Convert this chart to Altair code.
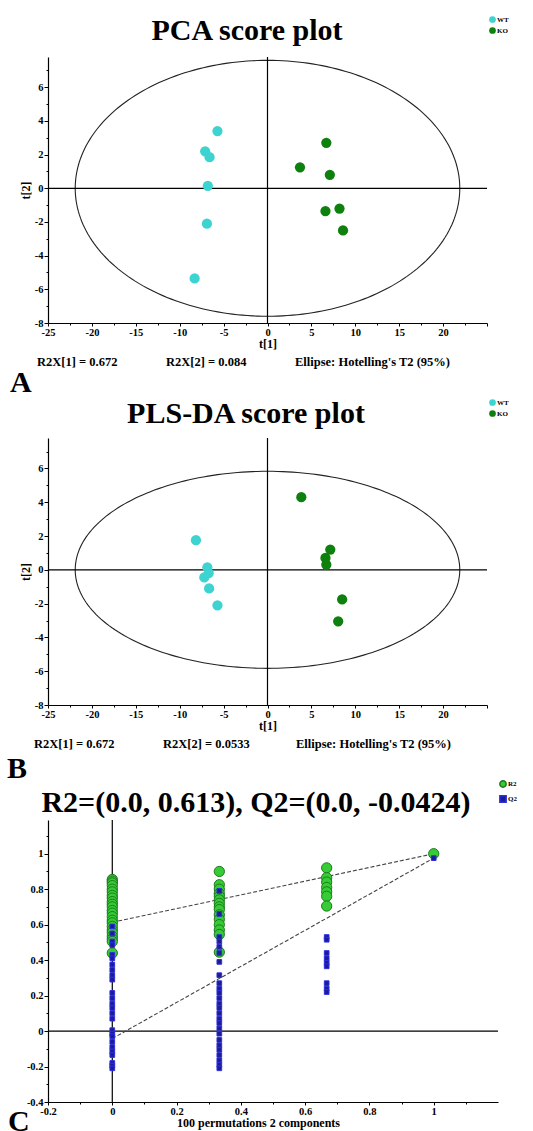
import altair as alt
import numpy as np
import pandas as pd

SERIF = "Liberation Serif"

# ---------------- Panel A : PCA scores ----------------
pca_wt_t1 = [-5.7, -7.1, -6.6, -6.8, -6.9, -8.3]
pca_wt_t2 = [3.4, 2.2, 1.85, 0.15, -2.1, -5.35]
pca_ko_t1 = [6.7, 3.7, 7.1, 6.6, 8.2, 8.6]
pca_ko_t2 = [2.7, 1.25, 0.8, -1.35, -1.2, -2.5]
pca_ellipse_axes = [21.9, 7.6]
pca_notes = ["R2X[1] = 0.672", "R2X[2] = 0.084", "Ellipse: Hotelling's T2 (95%)"]

# ---------------- Panel B : PLS-DA scores ----------------
pls_wt_t1 = [-8.15, -6.85, -6.7, -7.2, -6.65, -5.7]
pls_wt_t2 = [1.75, 0.15, -0.2, -0.45, -1.1, -2.1]
pls_ko_t1 = [3.85, 7.15, 6.6, 6.7, 8.5, 8.05]
pls_ko_t2 = [4.3, 1.2, 0.7, 0.3, -1.75, -3.05]
pls_ellipse_axes = [21.9, 5.83]
pls_notes = ["R2X[1] = 0.672", "R2X[2] = 0.0533", "Ellipse: Hotelling's T2 (95%)"]

groups = ["WT", "KO"]
group_colors = ["#3DD3D1", "#0E800E"]

# ---------------- Panel C : permutation test ----------------
perm_x = [0.0, 0.333, 0.667, 1.0]
r2_by_x = [
    [0.855, 0.845, 0.835, 0.82, 0.80, 0.785, 0.765, 0.75, 0.73, 0.715, 0.70, 0.68,
     0.665, 0.645, 0.625, 0.61, 0.59, 0.57, 0.555, 0.535, 0.52, 0.505, 0.44],
    [0.90, 0.825, 0.80, 0.775, 0.76, 0.74, 0.72, 0.70, 0.685, 0.655, 0.63, 0.60,
     0.57, 0.545, 0.445],
    [0.92, 0.865, 0.84, 0.81, 0.785, 0.76, 0.705],
    [1.0],
]
q2_by_x = [
    [0.59, 0.55, 0.505, 0.485, 0.43, 0.41, 0.375, 0.345, 0.315, 0.29, 0.215, 0.185,
     0.155, 0.13, 0.10, 0.07, 0.005, -0.015, -0.03, -0.06, -0.09, -0.115, -0.135,
     -0.18, -0.195, -0.21],
    [0.79, 0.66, 0.53, 0.505, 0.475, 0.44, 0.39, 0.315, 0.27, 0.24, 0.215, 0.185,
     0.155, 0.13, 0.10, 0.07, 0.045, 0.015, -0.015, -0.05, -0.08, -0.105, -0.135,
     -0.165, -0.19, -0.21],
    [0.53, 0.515, 0.44, 0.41, 0.385, 0.365, 0.27, 0.24, 0.22],
    [0.975],
]
r2_line = [0.613, 1.0]
q2_line = [-0.0424, 0.975]
series = ["R2", "Q2"]
series_fill = ["#35CC35", "#1C1C96"]
series_stroke = ["#1E7A1E", "#2F2FE0"]
perm_title = "R2=(0.0, 0.613), Q2=(0.0, -0.0424)"
perm_xlabel = "100 permutations 2 components"

one = pd.DataFrame({"n": [0]})
zero = pd.DataFrame({"v": [0.0]})
LABEL_FS = 10.5


def note(text, x, y, size=12.5, align="left"):
    return alt.Chart(one).mark_text(
        text=text, font=SERIF, fontSize=size, fontWeight="bold",
        align=align, baseline="alphabetic", color="black"
    ).encode(x=alt.value(x), y=alt.value(y))


def cond(test, major, minor):
    return {"condition": {"test": test, "value": major}, "value": minor}


W = 439


def score_panel(wt_t1, wt_t2, ko_t1, ko_t2, ell_axes, title, notes, letter,
                h, title_xy, legend_y, note_y, note_x, letter_xy):
    pts = pd.DataFrame({
        "t1": wt_t1 + ko_t1,
        "t2": wt_t2 + ko_t2,
        "group": ["WT"] * len(wt_t1) + ["KO"] * len(ko_t1),
    })
    theta = np.linspace(0, 2 * np.pi, 241)
    ell = pd.DataFrame({
        "t1": ell_axes[0] * np.cos(theta),
        "t2": ell_axes[1] * np.sin(theta),
        "k": np.arange(len(theta)),
    })
    xvals = [round(-25 + 2.5 * i, 1) for i in range(21)]
    yvals = [float(-8 + i) for i in range(16)]
    xs = alt.Scale(domain=[-25, 25], nice=False, zero=False)
    ys = alt.Scale(domain=[-8, 7.8], nice=False, zero=False)
    xmaj = "datum.value % 5 == 0 && datum.value < 25"
    ymaj = "datum.value % 2 == 0"
    xax = alt.Axis(
        values=xvals,
        labelExpr=xmaj + " ? '' + datum.value : ''",
        tickSize=cond("datum.value % 5 == 0", 3, 2),
        title="t[1]", titlePadding=1, labelPadding=1, grid=False,
        labelFlush=False, labelOverlap=False, labelSeparation=-8,
    )
    yax = alt.Axis(
        values=yvals,
        labelExpr=ymaj + " ? '' + datum.value : ''",
        tickSize=cond(ymaj, 4, 2),
        title="t[2]", titlePadding=2, labelPadding=1, grid=False,
        labelFlush=False, labelOverlap=False, labelSeparation=-8,
    )
    X = lambda f: alt.X(f, scale=xs, axis=xax)
    Y = lambda f: alt.Y(f, scale=ys, axis=yax)
    ellipse = alt.Chart(ell).mark_line(color="#222222", strokeWidth=1.1).encode(
        x=X("t1:Q"), y=Y("t2:Q"), order="k:Q",
    )
    vrule = alt.Chart(zero).mark_rule(color="black", strokeWidth=1.2).encode(x=X("v:Q"))
    hrule = alt.Chart(zero).mark_rule(color="black", strokeWidth=1.2).encode(y=Y("v:Q"))
    dots = alt.Chart(pts).mark_circle(size=105, opacity=1).encode(
        x=X("t1:Q"),
        y=Y("t2:Q"),
        color=alt.Color(
            "group:N",
            scale=alt.Scale(domain=groups, range=group_colors),
            legend=alt.Legend(
                orient="none", legendX=441, legendY=legend_y, title=None,
                labelFont=SERIF, labelFontSize=7, labelFontWeight="bold",
                symbolSize=45, symbolType="circle", rowPadding=3,
                labelOffset=1, padding=0, symbolStrokeWidth=0,
            ),
        ),
    )
    layers = [ellipse, vrule, hrule, dots]
    for t, x in zip(notes, note_x):
        layers.append(note(t, x, note_y))
    layers.append(note(letter, letter_xy[0], letter_xy[1], size=30))
    layers.append(note(title, title_xy[0], title_xy[1], size=30, align="center"))
    return alt.layer(*layers).properties(width=W, height=h)


panel_a = score_panel(pca_wt_t1, pca_wt_t2, pca_ko_t1, pca_ko_t2, pca_ellipse_axes,
                      "PCA score plot", pca_notes, "A", 266, (199, -17), -41, 309,
                      [-11, 118, 247], (-38, 335))
panel_b = score_panel(pls_wt_t1, pls_wt_t2, pls_ko_t1, pls_ko_t2, pls_ellipse_axes,
                      "PLS-DA score plot", pls_notes, "B", 267, (198, -15), -39, 310,
                      [-14, 115, 248], (-41, 340))

# ---------- Panel C ----------
rows = []
for xv, vals in zip(perm_x, r2_by_x):
    rows += [(xv, v, "R2") for v in vals]
for xv, vals in zip(perm_x, q2_by_x):
    rows += [(xv, v, "Q2") for v in vals]
perm = pd.DataFrame(rows, columns=["x", "v", "series"])
fit = pd.DataFrame({
    "x": [0.0, 1.0, 0.0, 1.0],
    "v": r2_line + q2_line,
    "series": ["R2", "R2", "Q2", "Q2"],
})

WC, HC = 450, 282
cxs = alt.Scale(domain=[-0.2, 1.2], nice=False, zero=False)
cys = alt.Scale(domain=[-0.4, 1.19], nice=False, zero=False)
cxvals = [round(-0.2 + 0.1 * i, 1) for i in range(14)]
cyvals = [round(-0.4 + 0.1 * i, 1) for i in range(16)]
major_test = "abs(datum.value*5 - round(datum.value*5)) < 0.001"
cmaj = major_test + " && datum.value < 1.1"
cxax = alt.Axis(
    values=cxvals,
    labelExpr=cmaj + " ? '' + datum.value : ''",
    tickSize=cond(major_test, 3, 2),
    title=perm_xlabel, titleX=210, titlePadding=1, labelPadding=1, grid=False,
    labelFlush=False, labelOverlap=False,
)
cyax = alt.Axis(
    values=cyvals,
    labelExpr=cmaj + " ? '' + datum.value : ''",
    tickSize=cond(major_test, 4, 2),
    title=None, labelPadding=1, grid=False, labelFlush=False, labelOverlap=False,
)
CX = lambda f: alt.X(f, scale=cxs, axis=cxax)
CY = lambda f: alt.Y(f, scale=cys, axis=cyax)
leg_c = alt.Legend(
    orient="none", legendX=451, legendY=-40, title=None,
    labelFont=SERIF, labelFontSize=7, labelFontWeight="bold",
    symbolSize=40, rowPadding=1, labelOffset=1, padding=0,
)
cshape = alt.Shape("series:N", scale=alt.Scale(domain=series, range=["circle", "square"]), legend=leg_c)
cfill = alt.Color("series:N", scale=alt.Scale(domain=series, range=series_fill), legend=leg_c)
cstroke = alt.Stroke("series:N", scale=alt.Scale(domain=series, range=series_stroke), legend=leg_c)

fit_lines = alt.Chart(fit).mark_line(color="#444444", strokeDash=[4, 2], strokeWidth=1.1).encode(
    x=CX("x:Q"), y=CY("v:Q"), detail="series:N",
)
c_vrule = alt.Chart(zero).mark_rule(color="black", strokeWidth=1.2).encode(x=CX("v:Q"))
c_hrule = alt.Chart(zero).mark_rule(color="black", strokeWidth=1.2).encode(y=CY("v:Q"))
r2_pts = alt.Chart(perm).transform_filter("datum.series == 'R2'").mark_point(
    filled=True, opacity=1, size=105, strokeWidth=1, strokeOpacity=1
).encode(x=CX("x:Q"), y=CY("v:Q"), shape=cshape, color=cfill, stroke=cstroke)
q2_pts = alt.Chart(perm).transform_filter("datum.series == 'Q2'").mark_point(
    filled=True, opacity=1, size=22, strokeWidth=1, strokeOpacity=1
).encode(x=CX("x:Q"), y=CY("v:Q"), shape=cshape, color=cfill, stroke=cstroke)

panel_c = alt.layer(
    c_vrule, c_hrule, fit_lines, r2_pts, q2_pts,
    note("C", -40, 311, size=30),
    note(perm_title, 208, -8, size=30, align="center"),
).properties(width=WC, height=HC)

chart = alt.vconcat(panel_a, panel_b, panel_c, spacing=115, bounds="flush").resolve_scale(
    x="independent", y="independent", color="independent",
    shape="independent", stroke="independent"
).resolve_legend(color="independent", shape="independent", stroke="independent").properties(
    padding={"left": 7, "top": 16, "right": 0, "bottom": 0}
).configure_view(stroke=None).configure_axis(
    domainColor="black", tickColor="black", labelColor="black", titleColor="black",
    labelFont=SERIF, labelFontWeight="bold", labelFontSize=LABEL_FS,
    titleFont=SERIF, titleFontWeight="bold", titleFontSize=12,
    domainWidth=1.2, tickWidth=1, labelOverlap=False,
)

chart.save("out.html", embed_options={"renderer": "svg", "actions": False})
